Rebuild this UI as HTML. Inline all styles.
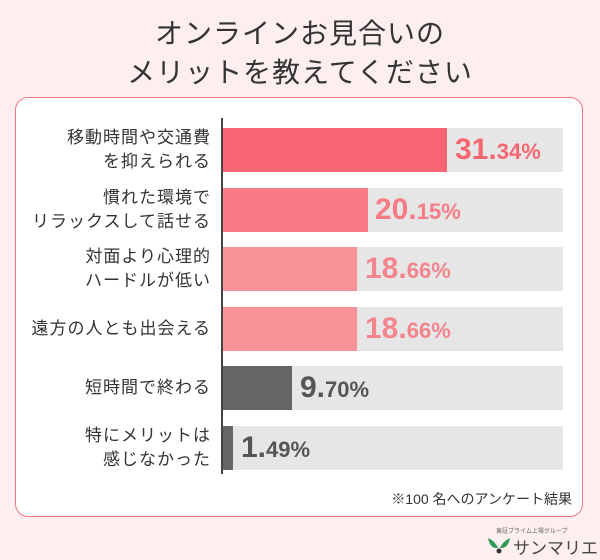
<!DOCTYPE html><html><head><meta charset="utf-8"><style>
body{margin:0;width:600px;height:560px;background:#fdeeef;font-family:"Liberation Sans","Noto Sans CJK JP",sans-serif;position:relative;overflow:hidden;color:#333}
.t{position:absolute;left:0;width:600px;text-align:center;font-size:28px;line-height:39px;top:14px;color:#333;letter-spacing:1px}
.card{position:absolute;left:15px;top:97px;width:566px;height:418px;background:#fff;border:1.5px solid #f27482;border-radius:13px}
.axis{position:absolute;left:221px;top:118px;width:2px;height:356px;background:#444}
.row{position:absolute;left:223px;width:340px;height:44px;background:#e6e6e6}
.bar{position:absolute;left:0;top:0;height:44px}
.lab{position:absolute;right:389px;width:220px;text-align:right;font-size:17px;line-height:24px;color:#333;letter-spacing:1px}
.v{position:absolute;top:2px;font-weight:bold;font-size:30px;white-space:nowrap;line-height:40px}
.v small{font-size:22px}
.note{position:absolute;right:28px;top:489px;font-size:14px;color:#333}
</style></head><body>
<div class="t">オンラインお見合いの<br>メリットを教えてください</div>
<div class="card"></div>
<div class="axis"></div>

<div class="lab" style="top:126px">移動時間や交通費<br>を抑えられる</div>
<div class="row" style="top:128px"><div class="bar" style="width:224px;background:#f76672"></div><div class="v" style="left:232px;color:#f76672">31.<small>34%</small></div></div>

<div class="lab" style="top:186px">慣れた環境で<br>リラックスして話せる</div>
<div class="row" style="top:188px"><div class="bar" style="width:145px;background:#f87b85"></div><div class="v" style="left:152px;color:#f87b85">20.<small>15%</small></div></div>

<div class="lab" style="top:245px">対面より心理的<br>ハードルが低い</div>
<div class="row" style="top:247px"><div class="bar" style="width:134px;background:#f8939a"></div><div class="v" style="left:142px;color:#f4858e">18.<small>66%</small></div></div>

<div class="lab" style="top:317px">遠方の人とも出会える</div>
<div class="row" style="top:307px"><div class="bar" style="width:134px;background:#f8939a"></div><div class="v" style="left:142px;color:#f4858e">18.<small>66%</small></div></div>

<div class="lab" style="top:376px">短時間で終わる</div>
<div class="row" style="top:366px"><div class="bar" style="width:69px;background:#666"></div><div class="v" style="left:77px;color:#555">9.<small>70%</small></div></div>

<div class="lab" style="top:424px">特にメリットは<br>感じなかった</div>
<div class="row" style="top:426px"><div class="bar" style="width:10px;background:#666"></div><div class="v" style="left:18px;color:#555">1.<small>49%</small></div></div>

<div class="note">※100 名へのアンケート結果</div>
<div style="position:absolute;left:496px;top:526px;font-size:6px;color:#666">東証プライム上場グループ</div>
<svg style="position:absolute;left:486px;top:535px" width="26" height="20"><path d="M2 3 Q4 14 12 13 Q9 6 2 3Z M24 3 Q22 14 14 13 Q17 6 24 3Z" fill="#2f9a55"/><circle cx="13" cy="16" r="2.5" fill="#333"/></svg>
<div style="position:absolute;left:513px;top:534px;font-size:17px;color:#444">サンマリエ</div>
</body></html>
